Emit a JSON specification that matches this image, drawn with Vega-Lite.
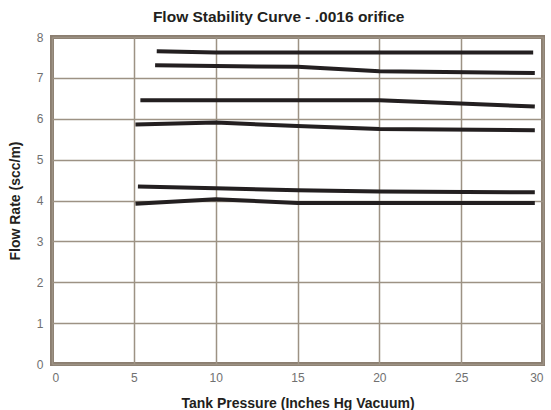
{
  "$schema": "https://vega.github.io/schema/vega-lite/v6.json",
  "autosize": "none",
  "width": 491,
  "height": 327,
  "padding": {"left": 52, "top": 37, "right": 8, "bottom": 46},
  "background": "white",
  "title": {"text": "Flow Stability Curve - .0016 orifice", "font": "Liberation Sans", "fontSize": 15.5, "fontWeight": "bold", "color": "#231f20", "offset": 6, "frame": "bounds", "dx": 3},
  "config": {
    "view": {"stroke": "#8b7e70", "strokeWidth": 4},
    "axis": {"labelFont": "Liberation Sans", "labelFontSize": 12, "labelColor": "#707070", "titleFont": "Liberation Sans", "titleFontSize": 14, "titleFontWeight": "bold", "titleColor": "#231f20", "domain": false, "ticks": false, "gridColor": "#9d9284", "gridWidth": 1.5, "gridOpacity": 1}
  },
  "data": {"values": [
    {"s": "a", "x": 6.4, "y": 7.65}, {"s": "a", "x": 10, "y": 7.62}, {"s": "a", "x": 15, "y": 7.62}, {"s": "a", "x": 20, "y": 7.62}, {"s": "a", "x": 29.4, "y": 7.62},
    {"s": "b", "x": 6.3, "y": 7.31}, {"s": "b", "x": 10, "y": 7.29}, {"s": "b", "x": 15, "y": 7.27}, {"s": "b", "x": 20, "y": 7.16}, {"s": "b", "x": 29.5, "y": 7.12},
    {"s": "c", "x": 5.4, "y": 6.45}, {"s": "c", "x": 10, "y": 6.45}, {"s": "c", "x": 15, "y": 6.45}, {"s": "c", "x": 20, "y": 6.45}, {"s": "c", "x": 29.5, "y": 6.3},
    {"s": "d", "x": 5.1, "y": 5.86}, {"s": "d", "x": 10, "y": 5.91}, {"s": "d", "x": 15, "y": 5.82}, {"s": "d", "x": 20, "y": 5.75}, {"s": "d", "x": 29.5, "y": 5.72},
    {"s": "e", "x": 5.25, "y": 4.34}, {"s": "e", "x": 10, "y": 4.3}, {"s": "e", "x": 15, "y": 4.25}, {"s": "e", "x": 20, "y": 4.22}, {"s": "e", "x": 29.5, "y": 4.2},
    {"s": "f", "x": 5.1, "y": 3.92}, {"s": "f", "x": 10, "y": 4.03}, {"s": "f", "x": 15, "y": 3.94}, {"s": "f", "x": 20, "y": 3.94}, {"s": "f", "x": 29.5, "y": 3.94}
  ]},
  "mark": {"type": "line", "color": "#231f20", "strokeWidth": 4, "strokeCap": "butt"},
  "encoding": {
    "x": {"field": "x", "type": "quantitative", "scale": {"domain": [0, 30], "nice": false}, "axis": {"values": [0, 5, 10, 15, 20, 25, 30], "title": "Tank Pressure (Inches Hg Vacuum)", "labelPadding": 8, "titlePadding": 13}},
    "y": {"field": "y", "type": "quantitative", "scale": {"domain": [0, 8], "nice": false}, "axis": {"values": [0, 1, 2, 3, 4, 5, 6, 7, 8], "title": "Flow Rate (scc/m)", "labelPadding": 9, "titlePadding": 14}},
    "detail": {"field": "s"}
  }
}
